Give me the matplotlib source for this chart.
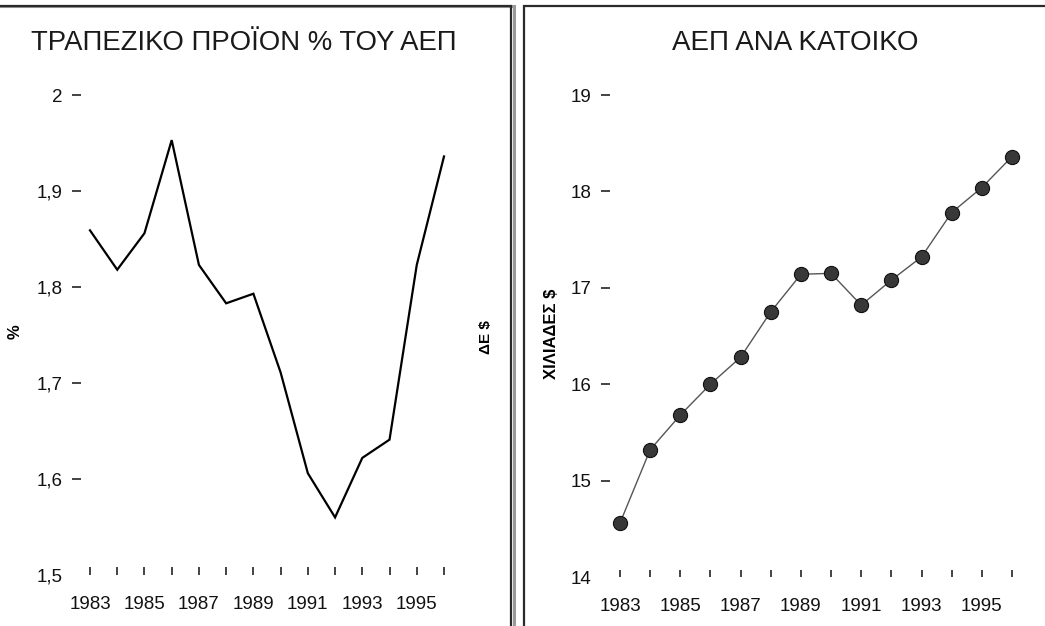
import matplotlib
matplotlib.use("Agg")
import matplotlib.pyplot as plt
from matplotlib.patches import Rectangle

plt.rcParams['font.family'] = ['Liberation Sans', 'DejaVu Sans']

years = list(range(1983, 1997))
bank_pct = [1.859, 1.818, 1.856, 1.953, 1.823, 1.783, 1.793, 1.711, 1.606,
            1.560, 1.622, 1.641, 1.823, 1.936]
gdp_per_capita = [14.56, 15.32, 15.68, 16.00, 16.28, 16.75, 17.14, 17.15,
                  16.82, 17.08, 17.32, 17.78, 18.04, 18.36]
left_yticks = [1.5, 1.6, 1.7, 1.8, 1.9, 2.0]
left_ylabels = ['1,5', '1,6', '1,7', '1,8', '1,9', '2']
right_yticks = [14, 15, 16, 17, 18, 19]
right_ylabels = ['14', '15', '16', '17', '18', '19']
year_labels = [str(y) if y % 2 == 1 else '' for y in years]
title_left = 'ΤΡΑΠΕΖΙΚΟ ΠΡΟΪΟΝ % ΤΟΥ ΑΕΠ'
title_right = 'ΑΕΠ ΑΝΑ ΚΑΤΟΙΚΟ'

W, H = 1045, 626
fig = plt.figure(figsize=(W / 100, H / 100), dpi=100)
fig.patch.set_facecolor('white')


def fx(x):
    return x / W


def fy(y):
    return 1 - y / H


def add_px_axes(x0, x1, ytop, ybot):
    return fig.add_axes([fx(x0), fy(ybot), (x1 - x0) / W, (ybot - ytop) / H])


# panel frames
fig.add_artist(Rectangle((fx(-10), fy(660)), (511 + 10) / W + 3 / W, (660 - 6) / H,
                         transform=fig.transFigure, fill=False, ec='#9a9a9a', lw=2.2,
                         zorder=0))
fig.add_artist(Rectangle((fx(-10), fy(660)), (511 + 10) / W, (660 - 6) / H,
                         transform=fig.transFigure, fill=False, ec='#2a2a2a', lw=1.6))
fig.add_artist(Rectangle((fx(524), fy(660)), (1070 - 524) / W, (660 - 6) / H,
                         transform=fig.transFigure, fill=False, ec='#2a2a2a', lw=1.6))


def style_axes(ax, yticks, ylabels, xtick_len, first_tick_hidden):
    for s in ax.spines.values():
        s.set_visible(False)
    ax.set_facecolor('none')
    ax.set_yticks(yticks)
    ax.set_yticklabels(ylabels)
    ax.set_xticks(years)
    ax.set_xticklabels(year_labels)
    ax.tick_params(axis='y', direction='out', length=6.5, width=1.1, pad=7,
                   labelsize=13.5, colors='#111111')
    ax.tick_params(axis='x', direction='in', length=xtick_len, width=1.1, pad=15,
                   labelsize=13.5, colors='#111111')
    if first_tick_hidden:
        ax.yaxis.get_major_ticks()[0].tick1line.set_visible(False)


# left chart
pxl = 27.23
axL = add_px_axes(81, 480, 95, 575)
axL.set_xlim(1983 - (90 - 81) / pxl, 1983 + (480 - 90) / pxl)
axL.set_ylim(1.5, 2.0)
axL.plot(years, bank_pct, color='black', lw=1.6, clip_on=False,
         solid_joinstyle='miter')
style_axes(axL, left_yticks, left_ylabels, 5.8, True)

# right chart
pxr = 30.15
axR = add_px_axes(610, 1040, 95, 577)
axR.set_xlim(1983 - (620 - 610) / pxr, 1983 + (1040 - 620) / pxr)
axR.set_ylim(14, 19)
axR.plot(years, gdp_per_capita, color='#555555', lw=1.0, marker='o',
         markersize=10.2, markerfacecolor='#383838', markeredgecolor='#111111',
         markeredgewidth=0.8, clip_on=False)
style_axes(axR, right_yticks, right_ylabels, 5.2, True)

# titles
fig.text(fx(244), fy(43), title_left, ha='center', va='center', fontsize=19.8,
         color='#1a1a1a')
fig.text(fx(795), fy(43), title_right, ha='center', va='center', fontsize=20,
         color='#1a1a1a')

# axis labels
fig.text(fx(15), fy(332), '%', rotation=90, ha='center', va='center',
         fontsize=12, fontweight='bold')
fig.text(fx(486), fy(337), 'ΔΕ $', rotation=90, ha='center', va='center',
         fontsize=11, fontweight='bold')
fig.text(fx(552), fy(334), 'ΧΙΛΙΑΔΕΣ $', rotation=90, ha='center', va='center',
         fontsize=12, fontweight='bold')

fig.savefig('out.png', dpi=100, facecolor='white')
